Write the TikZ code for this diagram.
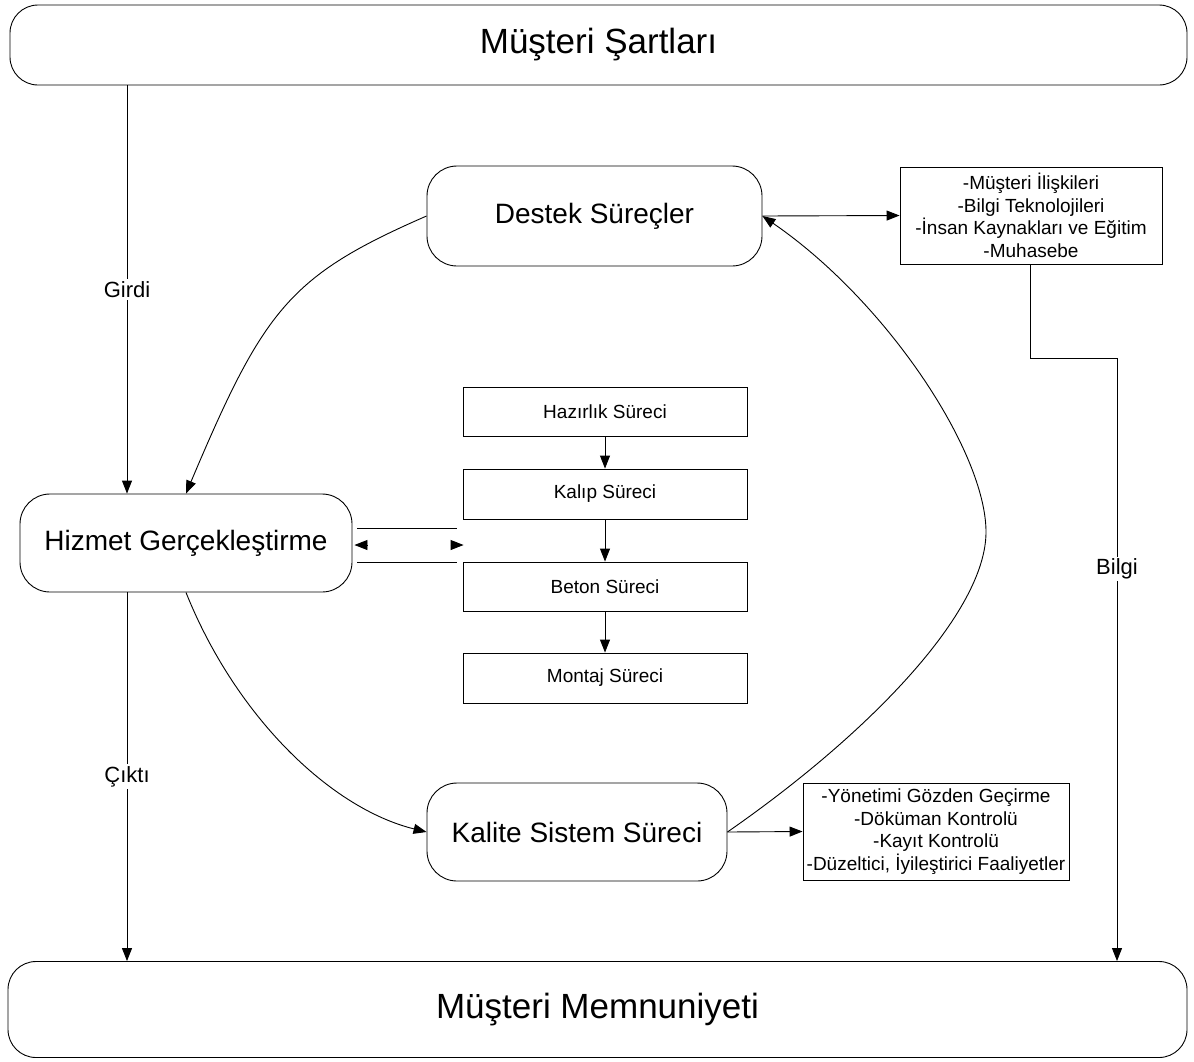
\documentclass[tikz,border=0pt]{standalone}
\usepackage{fontspec}
\setmainfont{Liberation Sans}
\usetikzlibrary{arrows.meta,calc}
\begin{document}
\begin{tikzpicture}[x=1pt,y=-1pt,line width=0.9pt,
  tip/.style={-{Triangle[length=13pt,width=10pt]}},
  bigbox/.style={draw, rounded corners=28pt, inner sep=0pt, font=\fontsize{35}{42}\selectfont},
  procbox/.style={draw, rounded corners=30pt, inner sep=0pt, font=\fontsize{28}{34}\selectfont},
  stepbox/.style={draw, minimum width=284pt, inner sep=0pt, font=\fontsize{19}{23}\selectfont},
  listbox/.style={draw, align=center, inner sep=0pt, font=\fontsize{19}{22.5}\selectfont},
  lbl/.style={fill=white, inner sep=2pt, font=\fontsize{22}{26}\selectfont}]
\useasboundingbox (0,0) rectangle (1194,1061);

% main blocks
\node[bigbox, minimum width=1177pt, minimum height=80pt] (ms) at (598.5,45) {Müşteri Şartları};
\node[bigbox, minimum width=1179pt, minimum height=96pt] (mm) at (597.5,1009.5) {Müşteri Memnuniyeti};
\node[procbox, minimum width=332pt, minimum height=98pt] (hz) at (186,543) {Hizmet Gerçekleştirme};
\node[procbox, minimum width=335pt, minimum height=100pt] (ds) at (594.5,216) {Destek Süreçler};
\node[procbox, minimum width=300pt, minimum height=98pt] (ks) at (577,832) {Kalite Sistem Süreci};

% side lists
\node[listbox, minimum width=262pt, minimum height=97pt] (dl) at (1031,215.5)
  {-Müşteri İlişkileri\\-Bilgi Teknolojileri\\-İnsan Kaynakları ve Eğitim\\-Muhasebe};
\node[listbox, minimum width=266pt, minimum height=97pt] (kl) at (936,831.5)
  {-Yönetimi Gözden Geçirme\\-Döküman Kontrolü\\-Kayıt Kontrolü\\-Düzeltici, İyileştirici Faaliyetler};

% production steps
\node[stepbox, minimum height=49pt] (s1) at (605,411.5) {Hazırlık Süreci};
\node[stepbox, minimum height=50pt] (s2) at (605,494) {Kalıp Süreci};
\node[stepbox, minimum height=49pt] (s3) at (605,586.5) {Beton Süreci};
\node[stepbox, minimum height=50pt] (s4) at (605,678) {Montaj Süreci};

\draw[tip] (s1) -- (s2);
\draw[tip] (s2) -- (s3);
\draw[tip] (s3) -- (s4);

% input / output
\coordinate (gx) at (127,0);
\draw[tip] (ms.south -| gx) -- node[lbl] {Girdi} (hz.north -| gx);
\draw[tip] (hz.south -| gx) -- node[lbl] {Çıktı} (mm.north -| gx);

% information flow
\coordinate (bk) at (1030,358);
\coordinate (bx) at (1117,358);
\draw[tip] (dl.south -| bk) -- (bk) -- (bx) -- node[lbl, pos=0.35] {Bilgi} (mm.north -| bx);

\draw[tip] (ds.east) -- (dl.west);
\draw[tip] (ks.east) -- (kl.west);

% two-way link between service delivery and the steps
\coordinate (pm) at (0,545);
\coordinate (pt) at (0,528);
\coordinate (pb) at (0,562);
\draw ($(hz.east |- pt)+(5,0)$) -- ($(s3.west |- pt)+(-6,0)$);
\draw ($(hz.east |- pb)+(5,0)$) -- ($(s3.west |- pb)+(-6,0)$);
\draw[tip] ($(hz.east |- pm)+(15,0)$) -- ($(hz.east |- pm)+(2,0)$);
\draw[tip] ($(s3.west |- pm)+(-12,0)$) -- ($(s3.west |- pm)+(1,0)$);

% cycle between processes
\draw[tip] (ds.west) .. controls (289,276) and (264,309) .. (hz.north);
\draw[tip] (hz.south) .. controls (235,715) and (329.5,808) .. (ks.west);
\draw[tip] (ks.east) .. controls (870,733) and (986,612) .. (986,532)
  .. controls (986,452) and (887,301.5) .. (ds.east);
\end{tikzpicture}
\end{document}
